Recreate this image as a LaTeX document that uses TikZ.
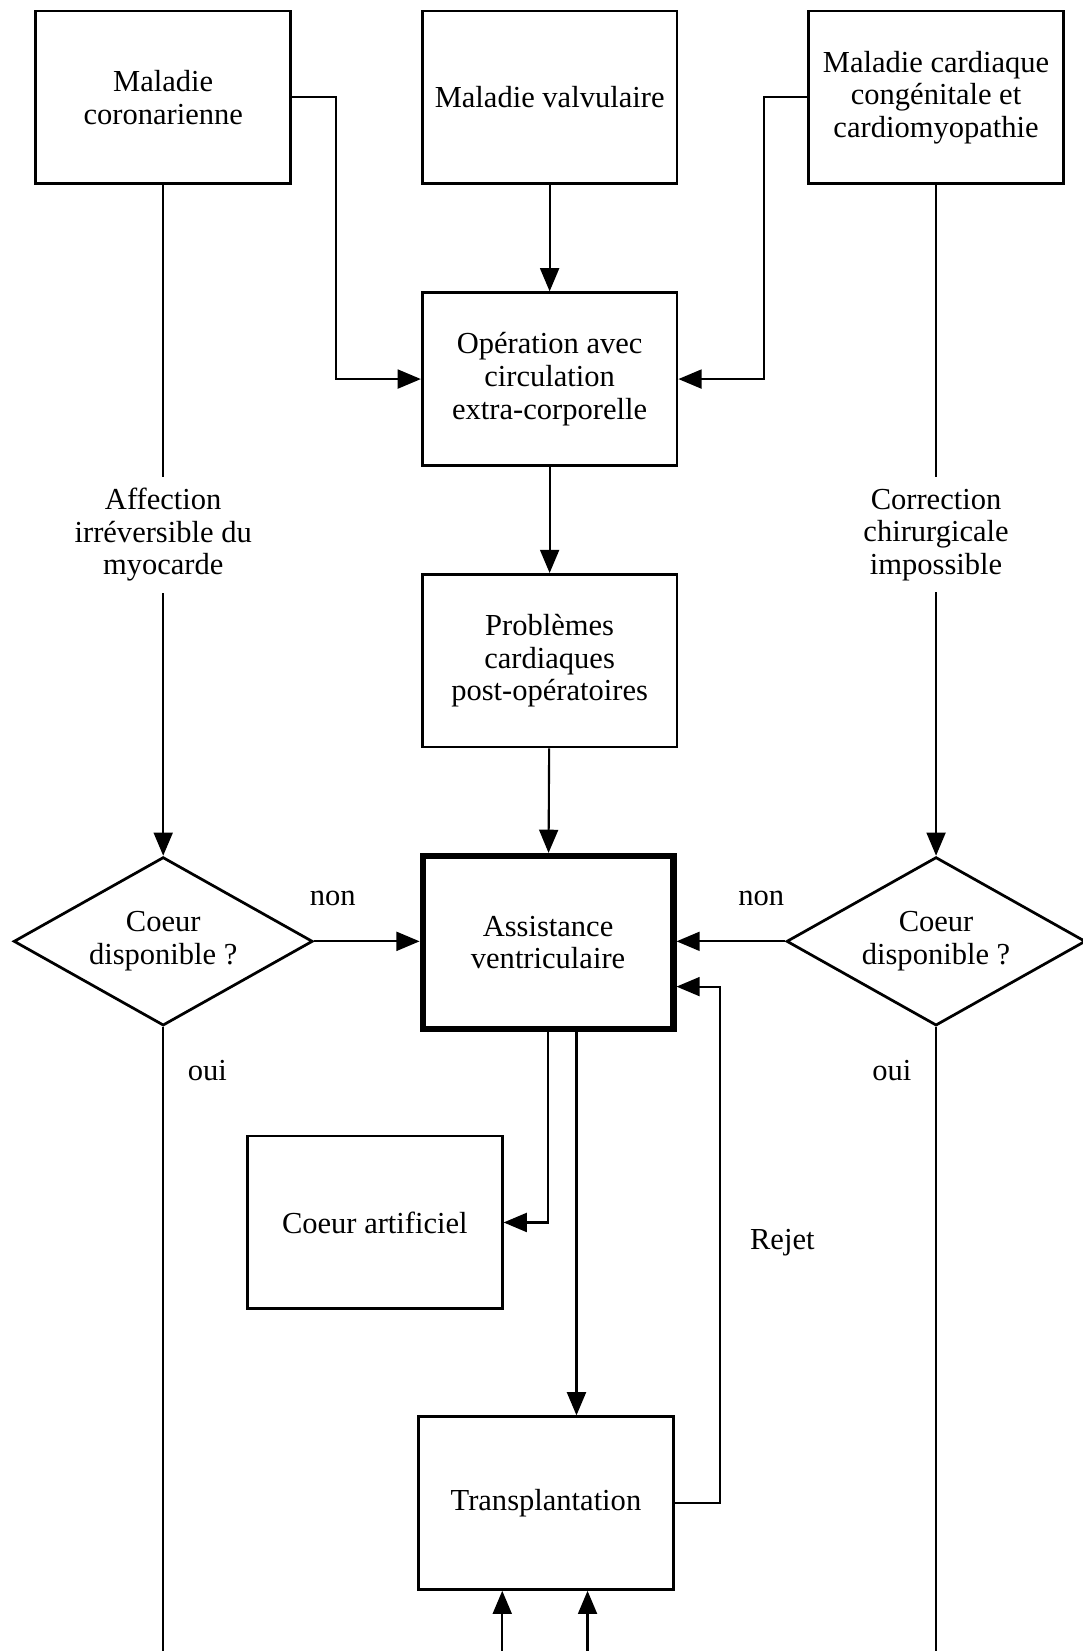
\documentclass[tikz,border=0pt]{standalone}
\usepackage{fontspec}
\setmainfont{Liberation Serif}
\usetikzlibrary{arrows.meta}
\usetikzlibrary{shapes.geometric}

\begin{document}
\begin{tikzpicture}[x=0.5pt, y=-0.5pt, line width=1pt, >={Triangle[length=11pt, width=9pt]},
        every node/.style={font=\fontsize{14.5}{15.5}\selectfont, align=center},
        box/.style={draw, line width=1.3pt, minimum width=121pt, minimum height=82pt, inner sep=0pt},
        choice/.style={draw, diamond, aspect=1.8, line width=1.3pt, minimum width=142pt, minimum height=80pt, inner sep=0pt}]
        \useasboundingbox (0,0) rectangle (1028,1568);
        \node [box] (coro) at (155, 92.5) {Maladie\\coronarienne};
        \node [box] (valv) at (522, 92.5) {Maladie valvulaire};
        \node [box] (cong) at (889, 92.5) {Maladie cardiaque\\congénitale et\\cardiomyopathie};
        \node [box] (oper) at (522, 360) {Opération avec\\circulation\\extra-corporelle};
        \node [box] (prob) at (522, 627.5) {Problèmes\\cardiaques\\post-opératoires};
        \node [box, line width=3pt, minimum width=119pt] (assist) at (520.5, 895) {Assistance\\ventriculaire};
        \node [box] (artif) at (356, 1161) {Coeur artificiel};
        \node [box] (transp) at (518.5, 1427.5) {Transplantation};
        \node [inner ysep=5pt] (aff) at (155, 508) {Affection\\irréversible du\\myocarde};
        \node [inner ysep=5pt] (corr) at (889, 508) {Correction\\chirurgicale\\impossible};
        \node [choice] (dl) at (155, 894) {Coeur\\disponible ?};
        \node [choice] (dr) at (889, 894) {Coeur\\disponible ?};
        \node (nonl) at (316, 853) {non};
        \node (nonr) at (723, 853) {non};
        \node (ouil) at (197, 1017) {oui};
        \node (ouir) at (847, 1017) {oui};
        \node (rejet) at (743, 1180) {Rejet};
        \coordinate (botl) at (155, 1568);
        \coordinate (botr) at (889, 1568);
        \coordinate (bota) at (477, 1568);
        \coordinate (botb) at (558, 1568);
        \draw [->] (coro.east) -- ++(42,0) |- (oper.west);
        \draw [->] (cong.west) -- ++(-41,0) |- (oper.east);
        \draw [->] (valv) -- (oper);
        \draw [->] (oper) -- (prob);
        \draw [->] (prob) -- (assist);
        \draw (coro) -- (aff);
        \draw [->] (aff) -- (dl);
        \draw (cong) -- (corr);
        \draw [->] (corr) -- (dr);
        \draw [->] (dl.east) -- (assist.west |- dl.east);
        \draw [->] (dr.west) -- (assist.east |- dr.west);
        \draw [->] (assist.south) |- (artif.east);
        \draw [->] ([xshift=13.5pt]assist.south) -- ([xshift=13.5pt]assist.south |- transp.north);
        \draw [->] (transp.east) -- ++(43,0) |- ([yshift=-21pt]assist.east);
        \draw (dl) -- (botl);
        \draw (dr) -- (botr);
        \draw [->] (bota) -- (bota |- transp.south);
        \draw [->] (botb) -- (botb |- transp.south);
    \end{tikzpicture}
\end{document}
